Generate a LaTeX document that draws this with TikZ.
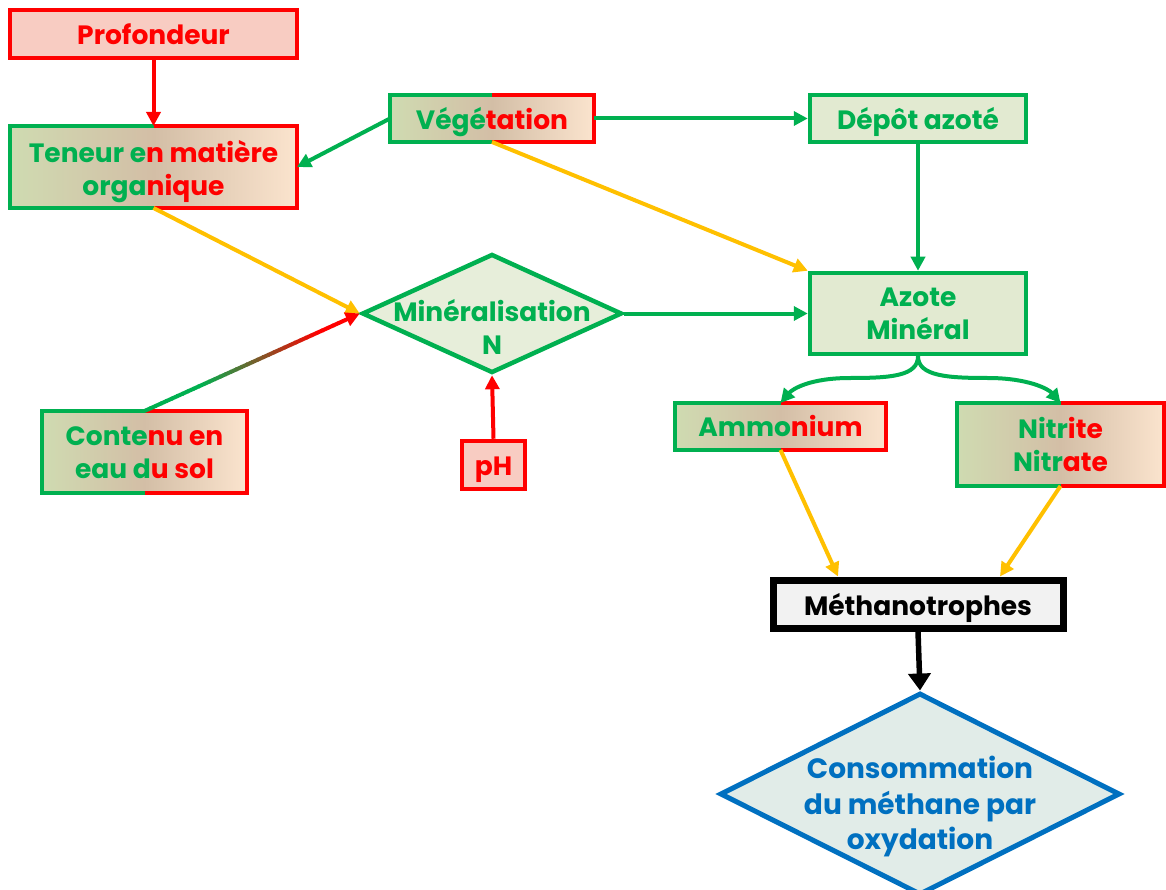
\documentclass[tikz,border=0pt]{standalone}
\usepackage{fontspec}
\setmainfont{Poppins}
\usetikzlibrary{arrows.meta,shapes.geometric,calc,shadows}
\definecolor{grn}{HTML}{00B050}
\definecolor{rd}{HTML}{FF0000}
\definecolor{yel}{HTML}{FFC000}
\definecolor{blu}{HTML}{0070C0}
\definecolor{pinkfill}{HTML}{F8CCC2}
\definecolor{gfill}{HTML}{E2EAD1}
\definecolor{dfill}{HTML}{E7EEDA}
\definecolor{cfill}{HTML}{E1ECE8}
\definecolor{mfill}{HTML}{F2F2F2}
\definecolor{gl}{HTML}{CFDBB1}
\definecolor{gm}{HTML}{D3BEA6}
\definecolor{gr}{HTML}{FBE4CE}
\newcommand\G[1]{\textcolor{grn}{#1}}
\newcommand\R[1]{\textcolor{rd}{#1}}
\newcommand\splitborder[1]{%
  \draw[grn, line width=4.5pt] (#1.north) -| (#1.west) |- (#1.south);
  \draw[rd, line width=4.5pt] (#1.north) -| (#1.east) |- (#1.south);}
\newcommand\dtext[2][-10pt]{\smash{\raisebox{#1}{\makebox[0pt]{\begin{tabular}{@{}c@{}}#2\end{tabular}}}}}
\begin{document}
\begin{tikzpicture}[x=1pt,y=-1pt,
  font=\fontsize{26.5}{33}\selectfont\bfseries,
  box/.style={rectangle, inner sep=0pt, line width=4.5pt},
  redbox/.style={box, draw=rd, fill=pinkfill, text=rd},
  grnbox/.style={box, draw=grn, fill=gfill, text=grn},
  mixbox/.style={box, outer sep=0pt, left color=gl, right color=gr, middle color=gm},
  arr/.style={line width=4pt, -{Triangle[length=14pt,width=14pt]}}]
\useasboundingbox (0,0) rectangle (1166,890);

\node[redbox, minimum width=287, minimum height=48] (pro) at (153.5,34) {\dtext{Profondeur}};
\node[mixbox, minimum width=287, minimum height=82] (ten) at (153.5,167) {\dtext[-12pt]{\G{Teneur e}\R{n matière}\\\G{orga}\R{nique}}};
\splitborder{ten}
\node[mixbox, minimum width=204, minimum height=47] (veg) at (492,118.5) {\dtext[-11pt]{\G{Végé}\R{tation}}};
\splitborder{veg}
\node[grnbox, minimum width=216, minimum height=47] (dep) at (918,118.5) {\dtext[-11pt]{Dépôt azoté}};
\node[grnbox, minimum width=216, minimum height=81] (az) at (918,313.5) {\dtext[-9pt]{Azote\\Minéral}};
\node[shape=diamond, inner sep=0pt, minimum width=260, minimum height=119, draw=grn, fill=dfill, line width=4.5pt, text=grn] (minN) at (492,313.5) {\dtext[-24pt]{Minéralisation\\N}};
\node[mixbox, minimum width=205, minimum height=82] (con) at (144.5,452) {\dtext[-10pt]{\G{Conte}\R{nu en}\\\G{eau d}\R{u sol}}};
\splitborder{con}
\node[redbox, minimum width=63, minimum height=48] (ph) at (493.5,465) {\dtext[-10pt]{pH}};
\node[mixbox, minimum width=211, minimum height=47] (am) at (780.5,426.5) {\dtext[-10pt]{\G{Ammo}\R{nium}}};
\splitborder{am}
\node[mixbox, minimum width=207, minimum height=83] (ni) at (1060.5,444.5) {\dtext[-10pt]{\G{Nitr}\R{ite}\\\G{Nitr}\R{ate}}};
\splitborder{ni}
\node[box, draw=black, line width=7pt, fill=mfill, text=black, minimum width=290, minimum height=48,
  drop shadow={shadow xshift=3pt, shadow yshift=-4pt, opacity=0.35}] (me) at (918,604) {\dtext[-11pt]{Méthanotrophes}};
\node[shape=diamond, inner sep=0pt, minimum width=400, minimum height=202, draw=blu, fill=cfill, line width=5pt, text=blu,
  font=\fontsize{28}{35.5}\selectfont\bfseries] (cons) at (920,794) {\dtext[-19.5pt]{Consommation\\du méthane par\\oxydation}};

\coordinate (meL) at ($(me.north)+(-80,0)$);
\coordinate (meR) at ($(me.north)+(82,0)$);
\coordinate (cl) at (850,378);
\coordinate (cr) at (988,378);

\draw[arr, rd] (pro) -- (ten);
\draw[arr, grn] (veg.west) -- (ten.east);
\draw[arr, grn] (veg.east) -- (dep.west);
\draw[arr, yel] (veg.south) -- (az.north west);
\draw[arr, yel] (ten.south) -- (minN.west);
\foreach \i in {1,...,36}{
  \pgfmathsetmacro\a{(\i-1)/40}
  \pgfmathsetmacro\b{\i/40+0.004}
  \pgfmathsetmacro\p{min(100,max(0,(\a-0.25)/0.55*100))}
  \draw[line width=4pt, draw=rd!\p!grn] ($(con.north)!\a!(minN.west)$) -- ($(con.north)!\b!(minN.west)$);
}
\draw[arr, rd] ($(con.north)!0.9!(minN.west)$) -- (minN.west);
\draw[arr, rd] (ph.north) -- (minN.south);
\draw[arr, grn] (minN.east) -- (az.west);
\draw[arr, grn] (dep.south) -- (az.north);
\draw[arr, grn] (az.south) .. controls +(0,20) and +(40,0) .. (cl) .. controls +(-40,0) and +(12,-14) .. (am.north);
\draw[arr, grn] (az.south) .. controls +(0,20) and +(-40,0) .. (cr) .. controls +(40,0) and +(-12,-14) .. (ni.north);
\draw[arr, yel] (am.south) -- (meL);
\draw[arr, yel] (ni.south) -- (meR);
\draw[line width=5.5pt, -{Triangle[length=17pt,width=22pt]}] (me.south) -- (cons.north);
\end{tikzpicture}
\end{document}
